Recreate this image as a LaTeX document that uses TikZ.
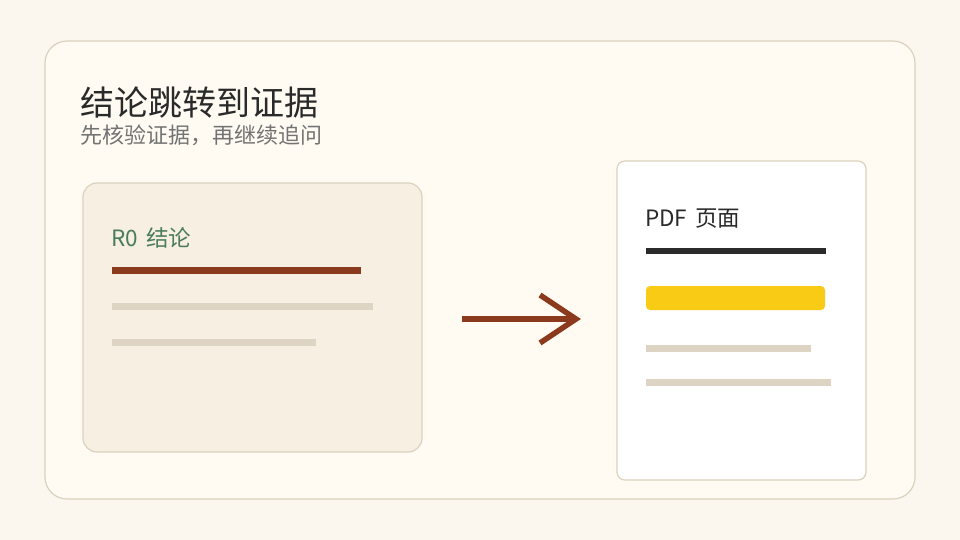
\documentclass[tikz,border=0pt]{standalone}
\usepackage{fontspec}
\setmainfont{Noto Sans CJK SC}
\definecolor{pagebg}{HTML}{FBF7EF}
\definecolor{cardbg}{HTML}{FFFBF3}
\definecolor{cardline}{HTML}{DAD2BE}
\definecolor{leftbg}{HTML}{F7EFE2}
\definecolor{rust}{HTML}{8B3A1E}
\definecolor{lightbar}{HTML}{DED4C3}
\definecolor{okgreen}{HTML}{4A7C59}
\definecolor{hilite}{HTML}{F9CB14}
\definecolor{ink}{HTML}{2A2A2A}
\tikzset{
  bar/.style={fill=#1, draw=none},
  panel/.style={draw=cardline, line width=1.2pt},
}
\begin{document}
\begin{tikzpicture}[x=1pt,y=-1pt]
	\useasboundingbox (0,0) rectangle (960,540);
	\fill[pagebg] (0,0) rectangle (960,540);
	% outer card
	\draw[panel, fill=cardbg, rounded corners=22pt] (45,41) rectangle (915,499);
	\node[anchor=base west, inner sep=0, text=ink, font=\fontsize{34}{38}\selectfont] (title) at (80,116) {结论跳转到证据};
	\node[anchor=base west, inner sep=0, text=black!55, font=\fontsize{22}{26}\selectfont] (sub) at (80,144) {先核验证据，再继续追问};
	% left card
	\draw[panel, fill=leftbg, rounded corners=14pt] (83,183) rectangle (422,452);
	\node[anchor=base west, inner sep=0, text=okgreen, font=\fontsize{22.5}{26}\selectfont] (claim) at (111,246) {R0\hspace{3pt} 结论};
	\fill[bar=rust] (112,267) rectangle (361,274);
	\fill[bar=lightbar] (112,303) rectangle (373,310);
	\fill[bar=lightbar] (112,339) rectangle (316,346);
	% arrow
	\coordinate (from) at (462,319);
	\coordinate (to) at (576,319);
	\draw[rust, line width=5.5pt] (from) -- (to);
	\draw[rust, line width=5.5pt] (540,295) -- (to) -- (540,343);
	% right card
	\draw[panel, fill=white, rounded corners=8pt] (617,161) rectangle (866,480);
	\node[anchor=base west, inner sep=0, text=ink, font=\fontsize{22.5}{26}\selectfont] (pdf) at (645,226) {PDF\hspace{3pt} 页面};
	\fill[bar=ink] (646,248) rectangle (826,254);
	\fill[bar=hilite, rounded corners=4pt] (646,286) rectangle (825,310);
	\fill[bar=lightbar] (646,345) rectangle (811,352);
	\fill[bar=lightbar] (646,379) rectangle (831,386);
\end{tikzpicture}
\end{document}
